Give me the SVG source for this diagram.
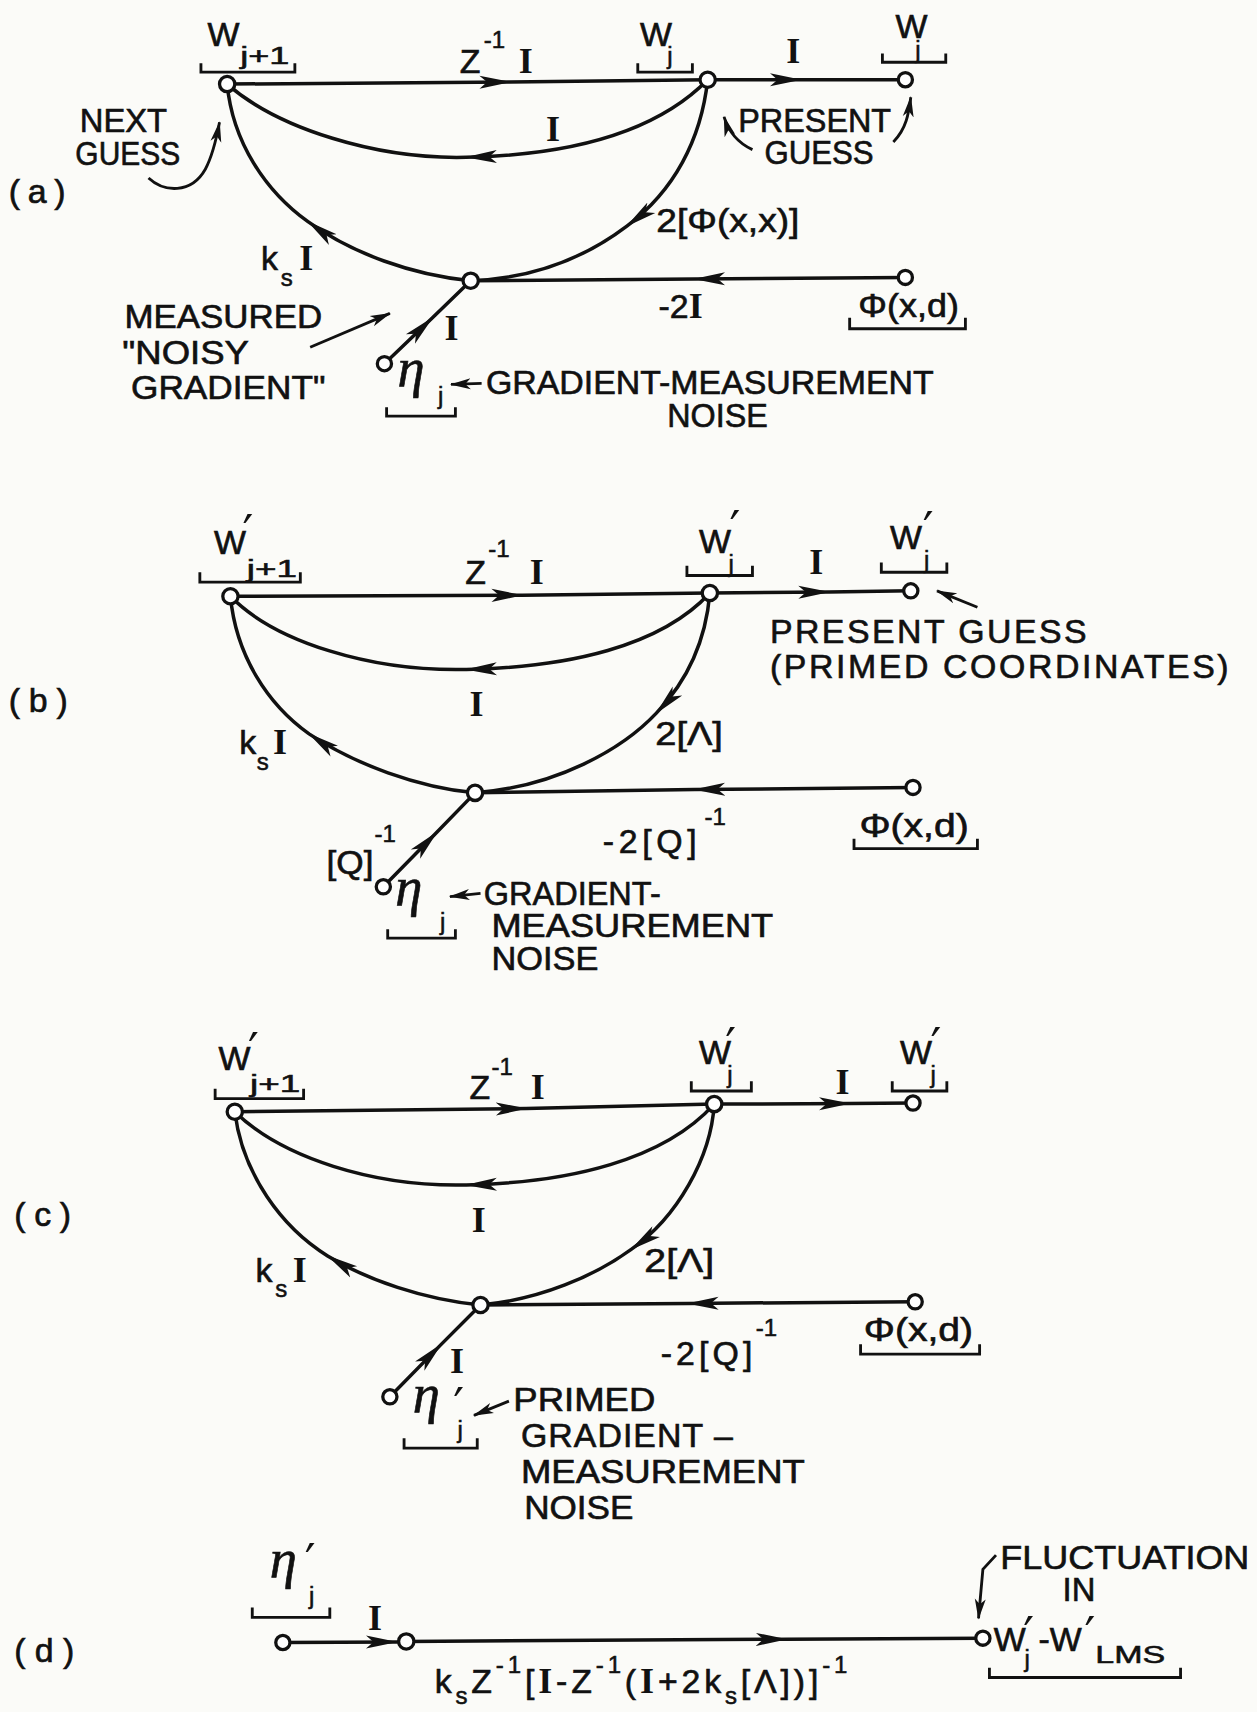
<svg xmlns="http://www.w3.org/2000/svg" width="1257" height="1712" viewBox="0 0 1257 1712">
<defs>
<style>
.t{font-family:"Liberation Sans",Arial,sans-serif;font-size:31px;font-style:normal;fill:#111;stroke:#111;stroke-width:0.6}
.s{font-family:"Liberation Sans",Arial,sans-serif;font-size:22px;font-style:normal;fill:#111;stroke:#111;stroke-width:0.5}
.I{font-family:"Liberation Serif","Times New Roman",serif;font-weight:bold;font-style:normal;font-size:33px;fill:#111;stroke:none}
.eta{font-family:"Liberation Serif","Times New Roman",serif;font-style:italic;font-size:50px;fill:#111;stroke:#111;stroke-width:0.6}
.pr{font-family:"DejaVu Sans",sans-serif;font-size:44px;font-style:normal;fill:#111;stroke:none}
.e{fill:none;stroke:#111;stroke-width:3.2;marker-mid:url(#ah)}
.an{fill:none;stroke:#111;stroke-width:2.6;marker-end:url(#ah2)}
.br{fill:none;stroke:#111;stroke-width:2.6}
.n{fill:#fff;stroke:#111;stroke-width:3}
</style>
<marker id="ah" viewBox="0 0 30 14" refX="28" refY="7" markerWidth="30" markerHeight="14" markerUnits="userSpaceOnUse" orient="auto"><path d="M29,7 L0,1 L7,7 L0,13 Z" fill="#111"/></marker>
<marker id="ah2" viewBox="0 0 20 12" refX="18" refY="6" markerWidth="20" markerHeight="12" markerUnits="userSpaceOnUse" orient="auto"><path d="M19,6 L0,1 L5,6 L0,11 Z" fill="#111"/></marker>
</defs>
<rect width="1257" height="1712" fill="#fbfbf8"/>
<g transform="scale(1.092094)">

<g id="connectors">
<!-- (a) -->
<path class="e" d="M208,77 L467,75 L648,73"/>
<path class="e" d="M648,73 L733,73 L829,73"/>
<path class="e" d="M648,73 C600,122 520,142 427,144 C345,146 255,118 208,77"/>
<path class="e" d="M431,257 C378,252 322,232 282,203 C243,175 213,130 208,77"/>
<path class="e" d="M648,73 C642,128 617,175 574,207 C537,235 490,255 431,257"/>
<path class="e" d="M829,254 L636,255.5 L431,257"/>
<path class="e" d="M352,333 L396,291 L431,257"/>
<!-- (b) -->
<path class="e" d="M211,546 L478,545 L650,543"/>
<path class="e" d="M650,543 L759,542 L834,541"/>
<path class="e" d="M650,543 C605,592 520,611 427,613 C340,615 252,588 211,546"/>
<path class="e" d="M435,726 C383,721 325,700 283,672 C245,645 216,600 211,546"/>
<path class="e" d="M650,543 C646,590 628,625 601,653 C570,686 510,720 435,726"/>
<path class="e" d="M836,721 L636,723 L435,726"/>
<path class="e" d="M351,812 L400,762 L435,726"/>
<!-- (c) -->
<path class="e" d="M215,1018 L482,1015 L654,1011"/>
<path class="e" d="M654,1011 L778,1010.5 L836,1010"/>
<path class="e" d="M654,1011 C608,1062 522,1083 427,1085 C342,1087 258,1060 215,1018"/>
<path class="e" d="M440,1195 C388,1190 336,1172 300,1150 C258,1124 222,1075 215,1018"/>
<path class="e" d="M654,1011 C651,1060 620,1115 578,1144 C545,1168 495,1190 440,1195"/>
<path class="e" d="M838,1192 L630,1193.5 L440,1195"/>
<path class="e" d="M357,1279 L404,1231 L440,1195"/>
<!-- (d) -->
<path class="e" d="M259,1504 L363,1503.5 L372,1503.5"/>
<path class="e" d="M372,1503 L720,1501 L900,1500"/>
<!-- annotation arrows -->
<path class="an" d="M136,163 C150,176 175,178 188,155 C195,142 198,128 201,112"/>
<path class="an" d="M689,137 C676,131 667,120 663,107"/>
<path class="an" d="M818,130 C830,118 832,104 834,89"/>
<path class="an" d="M284,318 L357,287"/>
<path class="an" d="M441,351 L413,352"/>
<path class="an" d="M895,556 L858,541"/>
<path class="an" d="M440,818 L412,821"/>
<path class="an" d="M466,1283 L434,1296"/>
<path class="an" d="M912,1424 L900,1437 L896,1482"/>
</g>

<!-- panel (a) -->
<g id="a-Wj1">
<circle class="n" cx="208" cy="77" r="7"/>
<text class="t" x="190" y="42">W<tspan class="s" x="220" y="59" textLength="45" lengthAdjust="spacingAndGlyphs">j+1</tspan></text>
<path class="br" d="M184,58 V66 H270 V58"/>
</g>
<g id="a-Wj">
<circle class="n" cx="648" cy="73" r="7"/>
<text class="t" x="586" y="42">W<tspan class="s" x="611" y="59">j</tspan></text>
<path class="br" d="M584,58 V66 H634 V58"/>
</g>
<g id="a-Wjout">
<circle class="n" cx="829" cy="73" r="6.5"/>
<text class="t" x="820" y="35">W<tspan class="s" x="838" y="53">j</tspan></text>
<path class="br" d="M808,49 V57 H866 V49"/>
</g>
<g id="a-sum">
<circle class="n" cx="431" cy="257" r="7"/>
</g>
<g id="a-phi">
<circle class="n" cx="829" cy="254" r="6.5"/>
<text class="t" x="786" y="290" textLength="92" lengthAdjust="spacingAndGlyphs">Φ(x,d)</text>
<path class="br" d="M778,291 V301 H884 V291"/>
</g>
<g id="a-eta">
<circle class="n" cx="352" cy="333" r="6.5"/>
<text class="eta" x="364" y="353">η<tspan class="s" x="401" y="370">j</tspan></text>
<path class="br" d="M354,373 V381 H417 V373"/>
</g>
<g id="a-labels">
<text class="t" x="421" y="67">Z<tspan class="s" x="443" y="44">-1</tspan><tspan class="I" x="475" y="67">I</tspan></text>
<text class="I" x="720" y="58">I</text>
<text class="I" x="500" y="129">I</text>
<text class="t" x="73" y="121" textLength="80" lengthAdjust="spacingAndGlyphs">NEXT</text>
<text class="t" x="69" y="151" textLength="96" lengthAdjust="spacingAndGlyphs">GUESS</text>
<text class="t" x="8" y="186" textLength="52" lengthAdjust="spacing">(a)</text>
<text class="t" x="676" y="121" textLength="140" lengthAdjust="spacingAndGlyphs">PRESENT</text>
<text class="t" x="700" y="150" textLength="100" lengthAdjust="spacingAndGlyphs">GUESS</text>
<text class="t" x="601" y="212" textLength="131" lengthAdjust="spacingAndGlyphs">2[Φ(x,x)]</text>
<text class="t" x="239" y="247">k<tspan class="s" x="257" y="262">s</tspan><tspan class="I" x="274" y="247">I</tspan></text>
<text class="t" x="114" y="300" textLength="181" lengthAdjust="spacingAndGlyphs">MEASURED</text>
<text class="t" x="112" y="333" textLength="116" lengthAdjust="spacingAndGlyphs">"NOISY</text>
<text class="t" x="120" y="365" textLength="178" lengthAdjust="spacingAndGlyphs">GRADIENT"</text>
<text class="t" x="603" y="291">-2<tspan class="I">I</tspan></text>
<text class="I" x="407" y="311">I</text>
<text class="t" x="445" y="361" textLength="410" lengthAdjust="spacingAndGlyphs">GRADIENT-MEASUREMENT</text>
<text class="t" x="611" y="391" textLength="92" lengthAdjust="spacingAndGlyphs">NOISE</text>
</g>

<!-- panel (b) -->
<g id="b-Wj1">
<circle class="n" cx="211" cy="546" r="7"/>
<text class="t" x="196" y="507">W<tspan class="pr" x="222" y="503">′</tspan><tspan class="s" x="226" y="528" textLength="46" lengthAdjust="spacingAndGlyphs">j+1</tspan></text>
<path class="br" d="M183,524 V533 H275 V524"/>
</g>
<g id="b-Wj">
<circle class="n" cx="650" cy="543" r="7"/>
<text class="t" x="640" y="506">W<tspan class="pr" x="668" y="499">′</tspan><tspan class="s" x="667" y="524">j</tspan></text>
<path class="br" d="M629,518 V527 H689 V518"/>
</g>
<g id="b-Wjout">
<circle class="n" cx="834" cy="541" r="6.5"/>
<text class="t" x="815" y="503">W<tspan class="pr" x="845" y="500">′</tspan><tspan class="s" x="846" y="520">j</tspan></text>
<path class="br" d="M807,515 V524 H867 V515"/>
</g>
<g id="b-sum">
<circle class="n" cx="435" cy="726" r="7"/>
</g>
<g id="b-phi">
<circle class="n" cx="836" cy="721" r="6.5"/>
<text class="t" x="787" y="766" textLength="100" lengthAdjust="spacingAndGlyphs">Φ(x,d)</text>
<path class="br" d="M782,768 V777 H895 V768"/>
</g>
<g id="b-eta">
<circle class="n" cx="351" cy="812" r="6.5"/>
<text class="eta" x="362" y="829">η<tspan class="s" x="403" y="852">j</tspan></text>
<path class="br" d="M355,851 V859 H417 V851"/>
</g>
<g id="b-labels">
<text class="t" x="426" y="535">Z<tspan class="s" x="447" y="510">-1</tspan><tspan class="I" x="485" y="535">I</tspan></text>
<text class="I" x="741" y="526">I</text>
<text class="t" x="705" y="589" textLength="290" lengthAdjust="spacing">PRESENT  GUESS</text>
<text class="t" x="705" y="621" textLength="420" lengthAdjust="spacing">(PRIMED  COORDINATES)</text>
<text class="I" x="430" y="656">I</text>
<text class="t" x="8" y="652" textLength="54" lengthAdjust="spacing">(b)</text>
<text class="t" x="219" y="690">k<tspan class="s" x="235" y="705">s</tspan><tspan class="I" x="250" y="690">I</tspan></text>
<text class="t" x="600" y="682" textLength="62" lengthAdjust="spacingAndGlyphs">2[Λ]</text>
<text class="t" x="552" y="781" textLength="86" lengthAdjust="spacing">-2[Q]</text>
<text class="s" x="645" y="755">-1</text>
<text class="t" x="299" y="800" textLength="43" lengthAdjust="spacingAndGlyphs">[Q]</text>
<text class="s" x="343" y="771">-1</text>
<text class="t" x="443" y="829" textLength="162" lengthAdjust="spacingAndGlyphs">GRADIENT-</text>
<text class="t" x="450" y="858" textLength="258" lengthAdjust="spacingAndGlyphs">MEASUREMENT</text>
<text class="t" x="450" y="888" textLength="98" lengthAdjust="spacingAndGlyphs">NOISE</text>
</g>

<!-- panel (c) -->
<g id="c-Wj1">
<circle class="n" cx="215" cy="1018" r="7"/>
<text class="t" x="200" y="980">W<tspan class="pr" x="227" y="977">′</tspan><tspan class="s" x="229" y="1000" textLength="46" lengthAdjust="spacingAndGlyphs">j+1</tspan></text>
<path class="br" d="M197,997 V1006 H278 V997"/>
</g>
<g id="c-Wj">
<circle class="n" cx="654" cy="1011" r="7"/>
<text class="t" x="640" y="974">W<tspan class="pr" x="664" y="972">′</tspan><tspan class="s" x="666" y="992">j</tspan></text>
<path class="br" d="M633,990 V999 H688 V990"/>
</g>
<g id="c-Wjout">
<circle class="n" cx="836" cy="1010" r="6.5"/>
<text class="t" x="824" y="974">W<tspan class="pr" x="852" y="972">′</tspan><tspan class="s" x="852" y="992">j</tspan></text>
<path class="br" d="M817,990 V999 H867 V990"/>
</g>
<g id="c-sum">
<circle class="n" cx="440" cy="1195" r="7"/>
</g>
<g id="c-phi">
<circle class="n" cx="838" cy="1192" r="6.5"/>
<text class="t" x="791" y="1228" textLength="100" lengthAdjust="spacingAndGlyphs">Φ(x,d)</text>
<path class="br" d="M788,1231 V1240 H897 V1231"/>
</g>
<g id="c-eta">
<circle class="n" cx="357" cy="1279" r="6.5"/>
<text class="eta" x="378" y="1293">η<tspan class="pr" x="415" y="1302">′</tspan><tspan class="s" x="419" y="1317">j</tspan></text>
<path class="br" d="M370,1317 V1326 H437 V1317"/>
</g>
<g id="c-labels">
<text class="t" x="430" y="1006">Z<tspan class="s" x="450" y="984">-1</tspan><tspan class="I" x="486" y="1006">I</tspan></text>
<text class="I" x="765" y="1002">I</text>
<text class="I" x="432" y="1128">I</text>
<text class="t" x="13" y="1123" textLength="52" lengthAdjust="spacing">(c)</text>
<text class="t" x="234" y="1174">k<tspan class="s" x="252" y="1188">s</tspan><tspan class="I" x="268" y="1174">I</tspan></text>
<text class="t" x="590" y="1165" textLength="64" lengthAdjust="spacingAndGlyphs">2[Λ]</text>
<text class="t" x="605" y="1250" textLength="84" lengthAdjust="spacing">-2[Q]</text>
<text class="s" x="692" y="1223">-1</text>
<text class="I" x="412" y="1257">I</text>
<text class="t" x="470" y="1292" textLength="130" lengthAdjust="spacingAndGlyphs">PRIMED</text>
<text class="t" x="477" y="1325" textLength="194" lengthAdjust="spacing">GRADIENT –</text>
<text class="t" x="477" y="1358" textLength="260" lengthAdjust="spacingAndGlyphs">MEASUREMENT</text>
<text class="t" x="480" y="1391" textLength="100" lengthAdjust="spacingAndGlyphs">NOISE</text>
</g>

<!-- panel (d) -->
<g id="d-in">
<circle class="n" cx="259" cy="1504" r="6.5"/>
<text class="eta" x="247" y="1444">η<tspan class="pr" x="279" y="1445">′</tspan><tspan class="s" x="283" y="1469">j</tspan></text>
<path class="br" d="M231,1472 V1481 H302 V1472"/>
</g>
<g id="d-mid">
<circle class="n" cx="372" cy="1503" r="7"/>
</g>
<g id="d-out">
<circle class="n" cx="900" cy="1500" r="6.5"/>
<text class="t" x="910" y="1512">W<tspan class="pr" x="937" y="1512">′</tspan><tspan class="s" x="938" y="1526">j</tspan><tspan x="951" y="1512">-W</tspan><tspan class="pr" x="993" y="1512">′</tspan><tspan class="s" x="1003" y="1523" textLength="64" lengthAdjust="spacingAndGlyphs">LMS</tspan></text>
<path class="br" d="M906,1527 V1536 H1081 V1527"/>
</g>
<g id="d-labels">
<text class="I" x="337" y="1493">I</text>
<text class="t" x="398" y="1550" textLength="378" lengthAdjust="spacing">k<tspan class="s" dy="10">s</tspan><tspan dy="-10">Z</tspan><tspan class="s" dy="-18">-1</tspan><tspan dy="18">[</tspan><tspan class="I">I</tspan>-Z<tspan class="s" dy="-18">-1</tspan><tspan dy="18">(</tspan><tspan class="I">I</tspan>+2k<tspan class="s" dy="10">s</tspan><tspan dy="-10">[Λ])]</tspan><tspan class="s" dy="-18">-1</tspan></text>
<text class="t" x="13" y="1522" textLength="55" lengthAdjust="spacing">(d)</text>
<text class="t" x="916" y="1437" textLength="228" lengthAdjust="spacingAndGlyphs">FLUCTUATION</text>
<text class="t" x="973" y="1466" textLength="30" lengthAdjust="spacingAndGlyphs">IN</text>
</g>
</g>
</svg>
